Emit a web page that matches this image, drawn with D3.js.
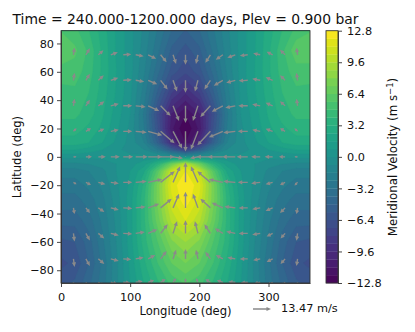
<!DOCTYPE html>
<html><head><meta charset="utf-8">
<style>html,body{margin:0;padding:0;background:#fff}svg{display:block}text{font-family:"DejaVu Sans",sans-serif;fill:#111}</style>
<script src="https://cdn.jsdelivr.net/npm/d3@7/dist/d3.min.js"></script>
</head><body><div id="c"></div>
<script>
const title="Time = 240.000-1200.000 days, Plev = 0.900 bar";
const xTicks=[0,100,200,300];
const yTicks=[-80,-60,-40,-20,0,20,40,60,80];
const cTicks=[-12.8,-9.6,-6.4,-3.2,0,3.2,6.4,9.6,12.8];
const fieldLons=[0,20,40,60,80,100,120,140,160,180,200,220,240,260,280,300,320,340,360];
const fieldLats=[90,75,60,45,30,20,10,5,0,-5,-10,-20,-30,-45,-60,-75,-90];
const vN90=[5.5,5,4,2.8,1.5,0.3,-1,-2.5,-4,-4.8,-4,-2.5,-1,0.3,1.5,2.8,4,5,5.5];
const vN75=[6.4,5.8,4.6,3,1.5,0.3,-1.2,-3,-5,-6,-5,-3,-1.2,0.3,1.5,3,4.6,6.2,6.2];
const vN60=[5.2,5.2,4.4,3,1.6,0.3,-1.5,-3.8,-6,-7,-6,-3.8,-1.5,0.3,1.6,3,4.4,5.2,5.2];
const vN45=[4.5,4.6,4,2.8,1.5,0.2,-2,-5,-8,-9.5,-8,-5,-2,0.2,1.5,2.8,4,4.6,4.5];
const vN30=[4.2,4.2,3.6,2.5,1.2,0,-2.6,-6.8,-10.5,-12,-10.5,-6.8,-2.6,0,1.2,2.5,3.6,4.2,4.2];
const vN20=[3.6,3.6,3,2.2,1,-0.2,-2.4,-6.4,-11,-12.8,-11,-6.4,-2.4,-0.2,1,2.2,3,3.6,3.6];
const vN10=[2.8,2.8,2.4,1.6,0.6,-0.3,-1.6,-5,-9.5,-12,-9.5,-5,-1.6,-0.3,0.6,1.6,2.4,2.8,2.8];
const vN05=[1.6,1.6,1.2,0.8,0.2,-0.3,-0.8,-2.5,-5.5,-8,-5.5,-2.5,-0.8,-0.3,0.2,0.8,1.2,1.6,1.6];
const vEq=[0.2,0.2,0.2,0.2,0.2,0.2,0.3,0.3,0.3,0,0.3,0.3,0.3,0.2,0.2,0.2,0.2,0.2,0.2];
const vS05=[-1,-1,-0.8,-0.5,0,0.5,1.2,3.5,7,10,7,3.5,1.2,0.5,0,-0.5,-0.8,-1,-1];
const vS10=[-2,-2,-1.6,-1,0,0.8,2.2,6,10.5,12,10.5,6,2.2,0.8,0,-1,-1.6,-2,-2];
const vS20=[-2.8,-2.8,-2.2,-1.4,-0.2,1,3.4,7.5,11.5,12.8,11.5,7.5,3.4,1,-0.2,-1.4,-2.2,-2.8,-2.8];
const vS30=[-3.5,-3.5,-2.8,-1.8,-0.4,1.2,3.8,7.5,11,12.6,11,7.5,3.8,1.2,-0.4,-1.8,-2.8,-3.5,-3.5];
const vS45=[-4.5,-4.5,-3.6,-2.2,-0.6,1.2,3.8,6.8,9.8,11.2,9.8,6.8,3.8,1.2,-0.6,-2.2,-3.6,-4.5,-4.5];
const vS60=[-5.8,-5.6,-4.4,-2.6,-0.8,1.2,3.6,5.6,7.8,8.8,7.8,5.6,3.6,1.2,-0.8,-2.6,-4.4,-5.6,-5.8];
const vS75=[-6.6,-6.2,-4.8,-3,-1,1,3,4.8,6.4,7.2,6.4,4.8,3,1,-1,-3,-4.8,-6.2,-6.6];
const vS90=[-5.8,-5.4,-4.2,-2.8,-1,0.8,2.4,3.8,5,5.6,5,3.8,2.4,0.8,-1,-2.8,-4.2,-5.4,-5.8];
const fieldRows=[vN90,vN75,vN60,vN45,vN30,vN20,vN10,vN05,vEq,vS05,vS10,vS20,vS30,vS45,vS60,vS75,vS90];

const arrowLons=[18,36,54,72,90,108,126,144,162,180,198,216,234,252,270,288,306,324,342];
const arrowLats=[72,54,36,18,0,-18,-36,-54,-72,-88.5];
const u72=[0.8,3,3.8,5.3,6,6,6,4.5,2.3,0,-1.5,-3.8,-5.3,-6,-6,-5.3,-4.5,-3.8,-0.8];
const v72=[5.3,4.9,3.4,1.9,0.4,-1.1,-3,-5.6,-6.8,-7.5,-6.8,-6,-3.8,-2.3,-0.8,1.1,2.3,3.8,5.3];
const u54=[0.8,3,4.1,5.6,6.4,6.4,6.8,5.3,3,0,-2.3,-4.5,-6.8,-6.8,-6.8,-6,-5.3,-3.8,-0.8];
const v54=[5.6,4.9,3.8,1.9,0.4,-1.1,-3,-6.8,-8.3,-9.4,-8.3,-6.8,-4.1,-1.9,-0.4,1.1,2.3,3.8,5.6];
const u36=[0.8,3,4.5,6,6.8,7.5,8.3,7.5,4.5,0,-3.8,-7.5,-8.3,-7.5,-7.1,-6,-5.3,-3.8,-0.8];
const v36=[5.3,4.5,3.4,1.5,0,-0.8,-3.8,-7.5,-11.3,-12.8,-11.3,-8.3,-4.5,-1.5,0,1.1,2.3,3.4,5.3];
const u18=[2.3,3.8,4.5,6,6.8,8.3,10.5,10.5,6.8,0,-5.3,-9.8,-10.5,-9,-7.5,-6,-5.3,-3.8,-2.3];
const v18=[2.3,2.3,1.9,1.1,0,-0.8,-3,-9,-12.8,-15,-13.5,-10.5,-4.5,-1.1,0,1.1,1.9,2.3,2.3];
const u00=[2.3,4.5,5.6,6.8,7.5,9,10.5,10.5,7.5,0,-6,-10.5,-11.3,-9.8,-8.3,-6.8,-6,-4.5,-2.3];
const v00=[0,0,0,0,0,0,0,0,-1.1,0.8,-1.1,0,0,0,0,0,0,0,0];
const us18=[2.3,3.8,5.3,6,6.8,8.3,10.5,10.5,5.3,0,-5.3,-9.8,-10.5,-9,-7.5,-6.8,-5.3,-3.8,-2.3];
const vs18=[-1.5,-1.9,-1.5,-0.8,0,0.8,2.3,8.3,12,15,12,8.3,2.3,0.8,0,-0.8,-1.5,-1.9,-2.3];
const us36=[0.8,3,4.5,6,6.8,7.5,8.3,8.3,4.5,0,-3.8,-7.5,-8.3,-8.3,-6.8,-6,-5.3,-3.8,-0.8];
const vs36=[-4.5,-3.8,-3,-1.5,-0.4,0.8,3,6.8,10.5,12,10.5,6.8,3.8,1.1,0,-1.1,-2.3,-3.8,-4.5];
const us54=[0.8,3,4.5,6,6.8,6.8,6.8,5.3,3,0,-2.3,-4.5,-6,-6.8,-6.8,-6,-4.5,-3.4,-0.8];
const vs54=[-6,-5.3,-3.8,-1.5,-0.4,1.1,3,6.8,9,9.8,9,6.8,3.8,1.5,0,-1.1,-2.3,-3.8,-5.6];
const us72=[0.8,3,4.5,6,6,6,5.3,4.5,2.3,0,-1.5,-3.8,-5.3,-6,-6,-5.3,-4.5,-3.4,-0.8];
const vs72=[-6,-5.3,-3.8,-1.5,-0.4,1.1,3,6,6.8,7.5,6.8,5.3,3,1.1,0,-1.1,-2.3,-3.8,-5.3];
const us90=[0.8,3,4.5,5.3,5.3,5.3,4.5,3.8,2.3,0,-1.5,-3.8,-4.5,-5.3,-5.3,-4.5,-3.8,-3,-0.8];
const vs90=[-5.3,-4.5,-3,-1.5,-0.4,0.8,1.5,2.3,3,3,3,2.3,1.5,0.4,-0.4,-1.1,-2.3,-3,-4.5];
const uRows=[u72,u54,u36,u18,u00,us18,us36,us54,us72,us90];
const vRows=[v72,v54,v36,v18,v00,vs18,vs36,vs54,vs72,vs90];
const keySpeed=13.47;

const W=415,H=332,L=61,R=310,T=30.7,B=283;
const svg=d3.select("#c").append("svg").attr("width",W).attr("height",H);
const x=d3.scaleLinear().domain([0,360]).range([L,R]);
const y=d3.scaleLinear().domain([-89,89]).range([B,T]);
const cy=d3.scaleLinear().domain([-12.8,12.8]).range([B,T]);
const color=t=>d3.interpolateViridis((t+12.8)/25.6);
const pxPerMs=18/keySpeed;
const fmt=v=>(v<0?"\u2212":"")+Math.abs(v);
const fmt1=v=>(v<0?"\u2212":"")+Math.abs(v).toFixed(1);

svg.append("clipPath").attr("id","pc").append("rect").attr("x",L).attr("y",T).attr("width",R-L).attr("height",B-T);
const plot=svg.append("g").attr("clip-path","url(#pc)");
const step=0.8;
const levels=d3.range(32).map(i=>-12.8+i*step);
plot.append("rect").attr("x",L).attr("y",T).attr("width",R-L).attr("height",B-T).attr("fill",color(-12.4));
const values=fieldRows.flat();
const nc=fieldLons.length,nr=fieldLats.length;
const cont=d3.contours().size([nc,nr]).thresholds(levels)(values);
const lonAt=d3.scaleLinear().domain(fieldLons.map((d,i)=>i)).range(fieldLons).clamp(true);
const latAt=d3.scaleLinear().domain(fieldLats.map((d,i)=>i)).range(fieldLats).clamp(true);
const tr=d3.geoTransform({point(px,py){this.stream.point(x(lonAt(px-0.5)),y(latAt(py-0.5)));}});
const gp=d3.geoPath(tr);
plot.selectAll("path.band").data(cont).join("path").attr("class","band")
  .attr("d",d=>gp(d)).attr("fill",d=>color(d.value+step/2)).attr("stroke",d=>color(d.value+step/2)).attr("stroke-width",0.3);

function arrowPath(x0,y0,dx,dy){
  const len=Math.hypot(dx,dy); if(len<0.01)return "";
  const ux=dx/len,uy=dy/len,nx=-uy,ny=ux;
  const hl=Math.min(4.5,len*0.6),hw=Math.min(2.1,len*0.35),sw=0.7;
  const bx=x0+dx-ux*hl,by=y0+dy-uy*hl;
  const p=[[x0+nx*sw,y0+ny*sw],[bx+nx*sw,by+ny*sw],[bx+nx*hw,by+ny*hw],[x0+dx,y0+dy],[bx-nx*hw,by-ny*hw],[bx-nx*sw,by-ny*sw],[x0-nx*sw,y0-ny*sw]];
  return "M"+p.map(q=>q[0].toFixed(2)+","+q[1].toFixed(2)).join("L")+"Z";
}
const arrows=[];
arrowLats.forEach((lat,r)=>arrowLons.forEach((lon,c)=>arrows.push({lon,lat,u:uRows[r][c],v:vRows[r][c]})));
plot.selectAll("path.arrow").data(arrows).join("path").attr("class","arrow")
  .attr("d",d=>arrowPath(x(d.lon),y(d.lat),d.u*pxPerMs,-d.v*pxPerMs)).attr("fill","#8a8a8a");

const ax=svg.append("g");
function styleAxis(g){g.selectAll("text").attr("font-size",11.3).attr("fill","#111").style("font-family",'"DejaVu Sans",sans-serif');g.selectAll("line,path").attr("stroke","#333").attr("stroke-width",0.9);}
ax.append("g").attr("transform",`translate(0,${B})`).call(d3.axisBottom(x).tickValues(xTicks).tickFormat(fmt).tickSize(4).tickSizeOuter(0).tickPadding(5.5)).call(styleAxis);
ax.append("g").attr("transform",`translate(${L},0)`).call(d3.axisLeft(y).tickValues(yTicks).tickFormat(fmt).tickSize(4).tickSizeOuter(0).tickPadding(3)).call(styleAxis);
ax.append("rect").attr("x",L).attr("y",T).attr("width",R-L).attr("height",B-T).attr("fill","none").attr("stroke","#333").attr("stroke-width",0.9);

const cbL=326,cbR=338;
const cb=svg.append("g");
cb.selectAll("rect").data(levels).join("rect").attr("x",cbL).attr("width",cbR-cbL)
  .attr("y",d=>cy(d+step)).attr("height",d=>cy(d)-cy(d+step)+0.3).attr("fill",d=>color(d+step/2));
cb.append("g").attr("transform",`translate(${cbR},0)`).call(d3.axisRight(cy).tickValues(cTicks).tickFormat(fmt1).tickSize(4).tickSizeOuter(0).tickPadding(5)).call(styleAxis);
cb.append("rect").attr("x",cbL).attr("y",T).attr("width",cbR-cbL).attr("height",B-T).attr("fill","none").attr("stroke","#333").attr("stroke-width",0.9);

svg.append("text").attr("x",185.5).attr("y",24).attr("text-anchor","middle").attr("font-size",13.9).text(title);
svg.append("text").attr("x",185.5).attr("y",315).attr("text-anchor","middle").attr("font-size",11.6).text("Longitude (deg)");
svg.append("text").attr("transform","translate(21,157) rotate(-90)").attr("text-anchor","middle").attr("font-size",11.6).text("Latitude (deg)");
const cl=svg.append("text").attr("transform","translate(397,157) rotate(-90)").attr("text-anchor","middle").attr("font-size",11.8);
cl.append("tspan").text("Meridional Velocity (m s");
cl.append("tspan").attr("dy",-4).attr("font-size",8.5).text("\u22121");
cl.append("tspan").attr("dy",4).text(")");

svg.append("path").attr("d",arrowPath(253,309,keySpeed*pxPerMs,0)).attr("fill","#8a8a8a");
svg.append("text").attr("x",281).attr("y",312).attr("font-size",11.3).text(keySpeed+" m/s");
</script></body></html>
